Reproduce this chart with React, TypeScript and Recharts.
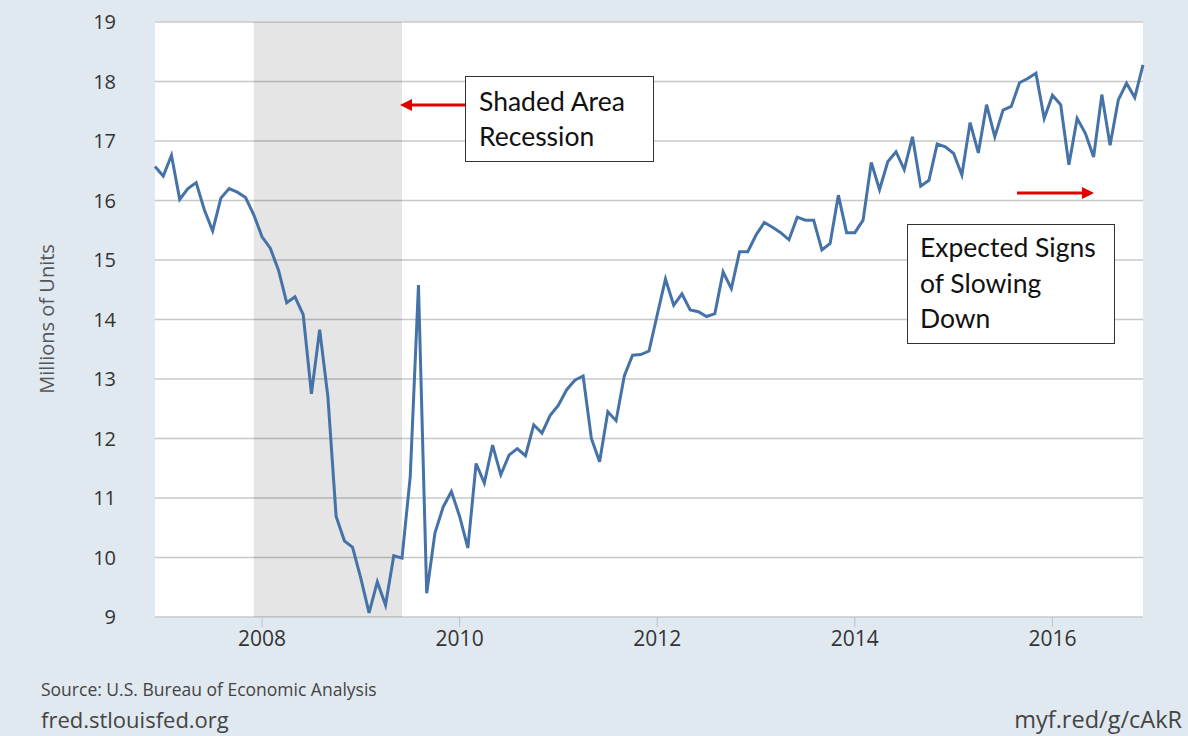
import { CartesianGrid, Line, LineChart, ReferenceArea, XAxis, YAxis } from "recharts";

// Light weight vehicle sales, millions of units (SAAR), monthly
const dec2006 = [16.57];
const y2007 = [16.41, 16.76, 16.02, 16.2, 16.3, 15.84, 15.49, 16.04, 16.2, 16.14, 16.05, 15.76];
const y2008 = [15.39, 15.2, 14.83, 14.28, 14.38, 14.08, 12.75, 13.83, 12.7, 10.69, 10.28, 10.17];
const y2009 = [9.65, 9.07, 9.59, 9.2, 10.03, 9.99, 11.36, 14.58, 9.4, 10.41, 10.85, 11.11];
const y2010 = [10.69, 10.16, 11.58, 11.25, 11.89, 11.39, 11.72, 11.83, 11.71, 12.23, 12.09, 12.39];
const y2011 = [12.56, 12.82, 12.98, 13.05, 12.0, 11.61, 12.45, 12.3, 13.05, 13.4, 13.41, 13.47];
const y2012 = [14.08, 14.68, 14.24, 14.43, 14.16, 14.13, 14.05, 14.1, 14.8, 14.52, 15.14, 15.14];
const y2013 = [15.42, 15.63, 15.55, 15.46, 15.34, 15.72, 15.67, 15.67, 15.17, 15.28, 16.09, 15.46];
const y2014 = [15.46, 15.67, 16.64, 16.18, 16.65, 16.82, 16.52, 17.07, 16.24, 16.34, 16.95, 16.9];
const y2015 = [16.79, 16.43, 17.31, 16.8, 17.61, 17.07, 17.52, 17.58, 17.98, 18.05, 18.14, 17.38];
const y2016 = [17.77, 17.61, 16.6, 17.38, 17.13, 16.73, 17.78, 16.93, 17.69, 17.97, 17.73, 18.28];

const yearSeries: [number, number[]][] = [
  [2007, y2007],
  [2008, y2008],
  [2009, y2009],
  [2010, y2010],
  [2011, y2011],
  [2012, y2012],
  [2013, y2013],
  [2014, y2014],
  [2015, y2015],
  [2016, y2016],
];

const xTicks = ["2008-01", "2010-01", "2012-01", "2014-01", "2016-01"];
const yTicks = [9, 10, 11, 12, 13, 14, 15, 16, 17, 18, 19];
const recession = { start: "2007-12", end: "2009-06" };

const pad = (m: number) => (m < 10 ? `0${m}` : `${m}`);

const data = [
  { date: "2006-12", sales: dec2006[0] },
  ...yearSeries.flatMap(([year, vals]) => vals.map((v, i) => ({ date: `${year}-${pad(i + 1)}`, sales: v }))),
];

const sans = "'Open Sans', 'Noto Sans', sans-serif";
const callout = "Lato, 'Open Sans', sans-serif";
const red = "#e00000";

export default function App() {
  return (
    <div
      style={{
        position: "absolute",
        left: 0,
        top: 0,
        width: 1188,
        height: 736,
        background: "#e1e9f0",
        fontFamily: sans,
      }}
    >
      <LineChart width={1188} height={736} data={data} margin={{ top: 22, right: 45, bottom: 79, left: 0 }}>
        <CartesianGrid vertical={false} stroke="#c8c8c8" strokeWidth={1.5} fill="#ffffff" fillOpacity={1} />
        <ReferenceArea x1={recession.start} x2={recession.end} fill="#000" fillOpacity={0.1} stroke="none" />
        <XAxis
          dataKey="date"
          ticks={xTicks}
          interval={0}
          tickFormatter={(v: string) => v.slice(0, 4)}
          axisLine={false}
          tickLine={{ stroke: "#c0c0c0" }}
          tickSize={10}
          tickMargin={4}
          height={40}
          tick={{ fill: "#333", fontSize: 21, fontFamily: sans }}
        />
        <YAxis
          domain={[9, 19]}
          ticks={yTicks}
          interval={0}
          width={155}
          axisLine={false}
          tickLine={false}
          tickSize={6}
          tickMargin={33}
          tick={{ fill: "#333", fontSize: 20, fontFamily: sans }}
        />
        <Line
          type="linear"
          dataKey="sales"
          stroke="#4572a7"
          strokeWidth={3}
          dot={false}
          activeDot={false}
          isAnimationActive={false}
        />
      </LineChart>

      <svg
        width={1188}
        height={736}
        style={{ position: "absolute", left: 0, top: 0, pointerEvents: "none" }}
      >
        <text
          x={0}
          y={0}
          transform="translate(54 319) rotate(-90)"
          textAnchor="middle"
          fontSize={20}
          fill="#555"
          fontFamily={sans}
        >
          Millions of Units
        </text>

        {/* recession callout */}
        <rect x={465.5} y={76.5} width={188} height={85} fill="#fff" stroke="#333" strokeWidth={1} />
        <text x={479} y={111} fontSize={26.5} fill="#111" fontFamily={callout}>
          Shaded Area
        </text>
        <text x={479} y={146} fontSize={26.5} fill="#111" fontFamily={callout}>
          Recession
        </text>
        <line x1={465} y1={105} x2={410} y2={105} stroke={red} strokeWidth={3} />
        <polygon points="400,105 412,99 412,111" fill={red} />

        {/* slowing callout */}
        <rect x={907.5} y={224.5} width={207} height={119} fill="#fff" stroke="#333" strokeWidth={1} />
        <text x={920} y={257} fontSize={26.5} fill="#111" fontFamily={callout}>
          Expected Signs
        </text>
        <text x={920} y={293} fontSize={26.5} fill="#111" fontFamily={callout}>
          of Slowing
        </text>
        <text x={920} y={328} fontSize={26.5} fill="#111" fontFamily={callout}>
          Down
        </text>
        <line x1={1017} y1={193} x2={1083} y2={193} stroke={red} strokeWidth={3} />
        <polygon points="1094,193 1082,187 1082,199" fill={red} />

        <text x={41} y={696} fontSize={17.5} fill="#444" fontFamily={sans}>
          Source: U.S. Bureau of Economic Analysis
        </text>
        <text x={41} y={728} fontSize={22} fill="#444" fontFamily={sans}>
          fred.stlouisfed.org
        </text>
        <text x={1182} y={728} textAnchor="end" fontSize={23.5} fill="#444" fontFamily={sans}>
          myf.red/g/cAkR
        </text>
      </svg>
    </div>
  );
}
